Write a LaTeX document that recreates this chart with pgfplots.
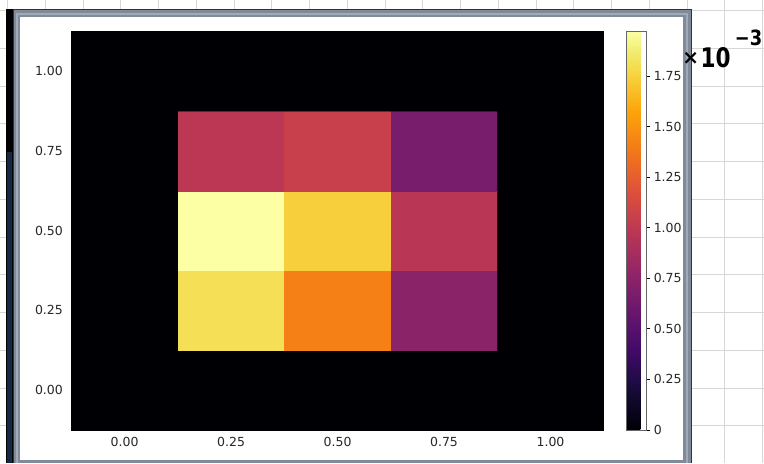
\documentclass[border=0pt]{standalone}
\usepackage{pgfplots}
\pgfplotsset{compat=1.18}
\usepackage{fontspec}
\setmainfont{DejaVu Sans}
\definecolor{framegray}{RGB}{128,138,152}
\definecolor{framelight}{RGB}{160,170,184}
\definecolor{navystrip}{RGB}{22,40,68}
\definecolor{gridgray}{RGB}{215,215,215}
\definecolor{ticktext}{RGB}{40,40,40}
\definecolor{infblack}{RGB}{0,0,4}
\pgfplotsset{colormap={inferno}{
 rgb255(0cm)=(0,0,4); rgb255(1cm)=(22,11,57); rgb255(2cm)=(66,10,104);
 rgb255(3cm)=(106,23,110); rgb255(4cm)=(147,38,103); rgb255(5cm)=(188,55,84);
 rgb255(6cm)=(221,81,58); rgb255(7cm)=(243,120,25); rgb255(8cm)=(252,165,10);
 rgb255(9cm)=(246,215,70); rgb255(9.5cm)=(241,237,113); rgb255(10cm)=(252,255,164)}}
\begin{document}
\begin{tikzpicture}[x=1pt,y=1pt]
\fill[white] (0,0) rectangle (764,-463);
\begin{scope}[shift={(7,-10)}]
\draw[gridgray, line width=0.9pt, step=37.8] (-7,-453) grid (757,10);
\end{scope}
\fill[black] (6,-9) rectangle (13,-463);
\fill[navystrip] (7,-152) rectangle (12,-463);
\fill[black!80] (13,-8.5) rectangle (692,-463);
\fill[framegray] (13.5,-10) rectangle (691,-463);
\fill[framelight] (15.5,-12.5) rectangle (688.5,-463);
\fill[framegray] (17.5,-14.5) rectangle (686,-463);
\fill[white] (20,-17) rectangle (683,-460);
\begin{axis}[
  at={(71pt,-430pt)}, anchor=south west,
  scale only axis, width=533pt, height=399pt,
  xmin=-0.125, xmax=1.125, ymin=-0.125, ymax=1.125,
  xtick={0,0.25,0.5,0.75,1}, xticklabels={0.00,0.25,0.50,0.75,1.00},
  ytick={0,0.25,0.5,0.75,1}, yticklabels={0.00,0.25,0.50,0.75,1.00},
  major tick length=0pt,
  tick label style={font=\fontsize{12.5}{14}\selectfont, text=ticktext},
  xticklabel style={yshift=-4pt},
  yticklabel style={xshift=-5pt},
  axis line style={black, line width=0.6pt},
  axis background/.style={fill=infblack},
  colormap name=inferno,
  point meta min=0, point meta max=1.97,
  colorbar,
  colorbar style={
    at={(parent axis.north east)}, anchor=north west, xshift=14pt,
    scale only axis, width=20pt, height=399pt,
    ytick={0,0.25,0.5,0.75,1,1.25,1.5,1.75},
    yticklabels={0,0.25,0.50,0.75,1.00,1.25,1.50,1.75},
    major tick length=4pt, tick align=outside, yticklabel pos=right,
    ytick pos=right,
    ytick style={black, line width=0.7pt},
    axis line style={black!60, line width=0.5pt},
    yticklabel style={font=\fontsize{12.5}{14}\selectfont, text=ticktext, xshift=0pt},
  },
]
\addplot[matrix plot*, mesh/cols=5, point meta=explicit, shader=faceted, faceted color=mapped color, line width=0.4pt] table[meta=c] {
x y c
0 0 0
0.25 0 0
0.5 0 0
0.75 0 0
1 0 0
0 0.25 0
0.25 0.25 1.81
0.5 0.25 1.42
0.75 0.25 0.75
1 0.25 0
0 0.5 0
0.25 0.5 1.97
0.5 0.5 1.74
0.75 0.5 0.97
1 0.5 0
0 0.75 0
0.25 0.75 0.98
0.5 0.75 1.05
0.75 0.75 0.66
1 0.75 0
0 1 0
0.25 1 0
0.5 1 0
0.75 1 0
1 1 0
};
\end{axis}
\node[font=\fontsize{20}{20}\selectfont\bfseries, inner sep=0pt] at (691,-58) {×};
\node[font=\fontsize{27}{27}\selectfont\bfseries, inner sep=0pt, xscale=0.8] at (716,-57) {10};
\node[font=\fontsize{21}{21}\selectfont\bfseries, inner sep=0pt, xscale=0.85] at (749,-37) {−3};
\end{tikzpicture}
\end{document}
